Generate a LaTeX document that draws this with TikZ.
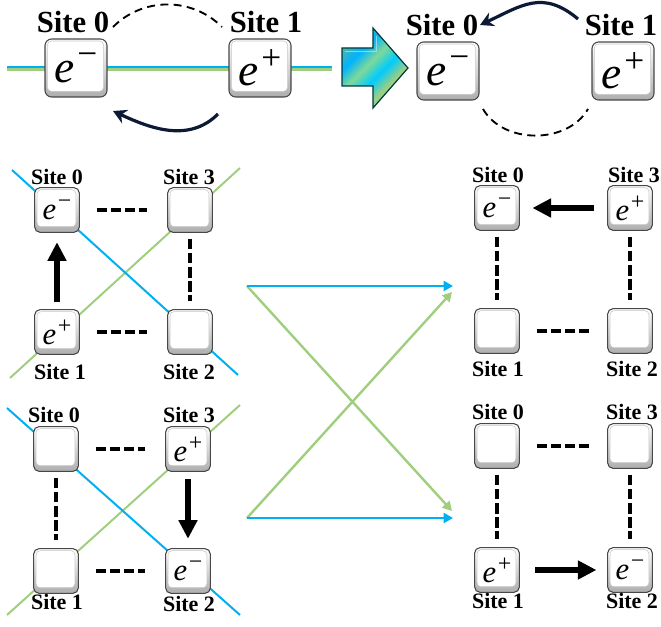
\RequirePackage{fix-cm}
\documentclass[tikz,border=0pt]{standalone}
\usepackage{graphicx}
\usepackage{fontspec}
\setmainfont{Liberation Serif}
\usetikzlibrary{arrows.meta}
\definecolor{lblue}{HTML}{00B0F0}
\definecolor{lgreen}{HTML}{9FCF7E}
\definecolor{navy}{HTML}{0C1A35}
\newcommand\elec[1]{\textit{e}\kern0.06em\raisebox{0.36em}{\scalebox{0.78}{#1}}}
\pgfdeclarehorizontalshading{arrowshade}{100bp}{color(0bp)=(teal!80!black); color(20bp)=(cyan!90!blue); color(35bp)=(lgreen); color(45bp)=(cyan!80!blue); color(55bp)=(lgreen!80!cyan); color(65bp)=(cyan!70!blue); color(80bp)=(lgreen!70!teal); color(100bp)=(teal!70!black)}
\begin{document}
\begin{tikzpicture}[x=0.75pt,y=-0.75pt,
  keybase/.style={draw=black!72, line width=0.8pt, rounded corners=4pt, top color=white, bottom color=black!32, inner sep=0pt,
    path picture={\draw[black!22, line width=0.4pt, fill=white, rounded corners=3pt]
      ([xshift=1.8pt,yshift=-1.5pt]path picture bounding box.north west) rectangle ([xshift=-2.6pt,yshift=4.2pt]path picture bounding box.south east);}},
  bigkey/.style={keybase, minimum width=46.5pt, minimum height=43.5pt, rounded corners=5pt, font=\fontsize{34}{34}\selectfont},
  smallkey/.style={keybase, minimum width=33.5pt, minimum height=33.5pt, font=\fontsize{23}{23}\selectfont},
  bigsite/.style={inner sep=0pt, font=\fontsize{23}{23}\selectfont\bfseries},
  smallsite/.style={inner sep=0pt, font=\fontsize{16.5}{16.5}\selectfont\bfseries},
  bluel/.style={lblue, line width=1.9pt},
  greenl/.style={lgreen, line width=1.9pt},
  fatarrow/.style={line width=5pt, -{Triangle[width=13.5pt,length=14pt]}},
  bond/.style={line width=2.8pt, dash pattern=on 7.8pt off 2.8pt},
  arcdash/.style={line width=1.4pt, dash pattern=on 6pt off 4pt},
  curvearrow/.style={navy, line width=2.4pt, -{Stealth[length=10pt,width=11pt]}},
  maparrow/.style={line width=1.8pt, -{Triangle[length=7pt,width=7.5pt]}}
]
\useasboundingbox (0,0) rectangle (661,627);

% ---------- top left ----------
\coordinate (hl) at (7,68);
\coordinate (hr) at (332,68);
\draw[greenl] ([yshift=-1pt]hl) -- ([yshift=-1pt]hr);
\draw[bluel] ([yshift=0.9pt]hl) -- ([yshift=0.9pt]hr);
\node[bigkey] (A0) at (76,68) {\elec{−}};
\node[bigkey] (A1) at (260,68) {\elec{+}};
\node[bigsite] (lA0) at (73,22) {Site 0};
\node[bigsite] (lA1) at (266,22) {Site 1};
\coordinate (a1) at (113,27);
\coordinate (a2) at (222,27);
\draw[arcdash] (a1) to[out=45,in=135] (a2);
\coordinate (a3) at (218,114);
\coordinate (a4) at (113,111);
\draw[curvearrow] (a3) to[out=-135,in=-25] (a4);

% ---------- big arrow ----------
\shade[shading=arrowshade, shading angle=135] (342,48) -- (373,48) -- (373,28) -- (408,68) -- (373,108) -- (373,86) -- (342,86) -- cycle;
\draw[teal!45!black, line width=0.9pt, line join=miter] (342,48) -- (373,48) -- (373,28) -- (408,68) -- (373,108) -- (373,86) -- (342,86) -- cycle;
\draw[white!70!cyan, line width=0.6pt, opacity=0.7] (345,51) -- (376,51) -- (376,36);

% ---------- top right ----------
\node[bigkey] (C0) at (448,71) {\elec{−}};
\node[bigkey] (C1) at (623,71) {\elec{+}};
\node[bigsite] (lC0) at (442,25) {Site 0};
\node[bigsite] (lC1) at (621,25) {Site 1};
\coordinate (c1) at (578,19);
\coordinate (c2) at (480,25);
\draw[curvearrow] (c1) to[out=140,in=25,looseness=1.2] (c2);
\coordinate (c3) at (483,109);
\coordinate (c4) at (588,109);
\draw[arcdash] (c3) to[out=-60,in=-120] (c4);

% ---------- lower left, upper ----------
\coordinate (b1) at (12,170);
\coordinate (b2) at (238,375);
\coordinate (b3) at (10,378);
\coordinate (b4) at (240,168);
\draw[greenl, line width=1.5pt] (b3) -- (b4);
\draw[bluel, line width=1.5pt] (b1) -- (b2);
\node[smallkey] (B0) at (57,210) {\elec{−}};
\node[smallkey] (B3) at (190,210) {};
\node[smallkey] (B1) at (57,332) {\elec{+}};
\node[smallkey] (B2) at (190,332) {};
\node[smallsite] (lB0) at (57,177) {Site 0};
\node[smallsite] (lB3) at (189,177) {Site 3};
\node[smallsite] (lB1) at (60,372) {Site 1};
\node[smallsite] (lB2) at (189,372) {Site 2};
\draw[bond, shorten <=12.5pt, shorten >=15pt] (B0.east) -- (B3.west);
\draw[bond, shorten <=12.5pt, shorten >=15pt] (B1.east) -- (B2.west);
\draw[bond, shorten <=4.5pt, shorten >=6pt] (B3.south) -- (B2.north);
\draw[fatarrow, shorten <=5pt, shorten >=7pt] (B1.north) -- (B0.south);

% ---------- lower left, lower ----------
\coordinate (d1) at (7,408);
\coordinate (d2) at (240,615);
\coordinate (d3) at (7,615);
\coordinate (d4) at (240,405);
\draw[greenl, line width=1.5pt] (d3) -- (d4);
\draw[bluel, line width=1.5pt] (d1) -- (d2);
\node[smallkey] (D0) at (56,449) {};
\node[smallkey] (D3) at (188,449) {\elec{+}};
\node[smallkey] (D1) at (56,571) {};
\node[smallkey] (D2) at (188,571) {\elec{−}};
\node[smallsite] (lD0) at (54,415) {Site 0};
\node[smallsite] (lD3) at (189,415) {Site 3};
\node[smallsite] (lD1) at (57,602) {Site 1};
\node[smallsite] (lD2) at (189,604) {Site 2};
\draw[bond, shorten <=12.5pt, shorten >=15pt] (D0.east) -- (D3.west);
\draw[bond, shorten <=12.5pt, shorten >=15pt] (D1.east) -- (D2.west);
\draw[bond, shorten <=4.5pt, shorten >=6pt] (D0.south) -- (D1.north);
\draw[fatarrow, shorten <=5pt, shorten >=7pt] (D3.south) -- (D2.north);

% ---------- middle mapping ----------
\coordinate (m1) at (247,286);
\coordinate (m2) at (247,518);
\coordinate (t1) at (453,286);
\coordinate (t2) at (453,518);
\coordinate (g1) at (452,511);
\coordinate (g2) at (452,292);
\draw[maparrow, lgreen] (m1) -- (g1);
\draw[maparrow, lgreen] (m2) -- (g2);
\draw[maparrow, lblue] (m1) -- (t1);
\draw[maparrow, lblue] (m2) -- (t2);

% ---------- right, upper ----------
\node[smallkey] (E0) at (497,208) {\elec{−}};
\node[smallkey] (E3) at (630,208) {\elec{+}};
\node[smallkey] (E1) at (497,331) {};
\node[smallkey] (E2) at (630,331) {};
\node[smallsite] (lE0) at (498,175) {Site 0};
\node[smallsite] (lE3) at (634,175) {Site 3};
\node[smallsite] (lE1) at (498,369) {Site 1};
\node[smallsite] (lE2) at (632,369) {Site 2};
\draw[bond, shorten <=4.5pt, shorten >=6pt] (E0.south) -- (E1.north);
\draw[bond, shorten <=4.5pt, shorten >=6pt] (E3.south) -- (E2.north);
\draw[bond, shorten <=12.5pt, shorten >=13pt] (E1.east) -- (E2.west);
\draw[fatarrow, shorten <=10pt, shorten >=9.4pt] (E3.west) -- (E0.east);

% ---------- right, lower ----------
\node[smallkey] (F0) at (497,446) {};
\node[smallkey] (F3) at (630,446) {};
\node[smallkey] (F1) at (497,570) {\elec{+}};
\node[smallkey] (F2) at (630,570) {\elec{−}};
\node[smallsite] (lF0) at (498,412) {Site 0};
\node[smallsite] (lF3) at (632,412) {Site 3};
\node[smallsite] (lF1) at (498,601) {Site 1};
\node[smallsite] (lF2) at (632,601) {Site 2};
\draw[bond, shorten <=12.5pt, shorten >=13pt] (F0.east) -- (F3.west);
\draw[bond, shorten <=4.5pt, shorten >=6pt] (F0.south) -- (F1.north);
\draw[bond, shorten <=4.5pt, shorten >=6pt] (F3.south) -- (F2.north);
\draw[fatarrow, shorten <=11.5pt, shorten >=8pt] (F1.east) -- (F2.west);
\end{tikzpicture}
\end{document}
